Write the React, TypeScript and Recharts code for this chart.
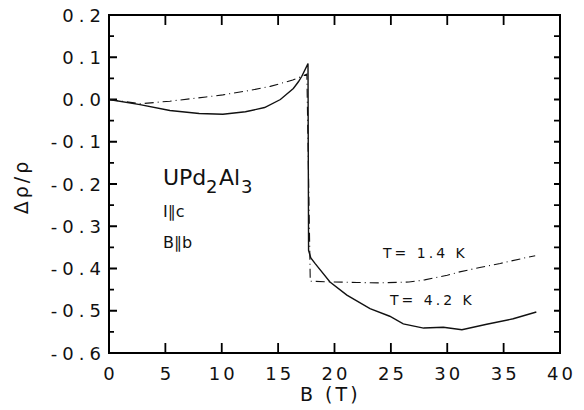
import React from 'react';
import { LineChart, Line, XAxis, YAxis } from 'recharts';

// Axis domains and tick values
const fieldDomain = [0, 40];
const rhoDomain = [-0.6, 0.2];
const fieldTicks = [0, 5, 10, 15, 20, 25, 30, 35, 40];
const rhoTicks = [
  -0.6, -0.55, -0.5, -0.45, -0.4, -0.35, -0.3, -0.25, -0.2, -0.15, -0.1, -0.05, 0, 0.05, 0.1, 0.15, 0.2,
];

// T = 1.4 K (dashed)
const fieldLow = [0, 2.8, 5.4, 8.6, 10.1, 12.6, 14.3, 16.3, 17.55, 17.85, 20, 22, 24, 26.6, 28, 30, 31.1, 33, 34.7, 37.2, 37.8];
const rhoLow = [0, -0.01, -0.004, 0.006, 0.011, 0.022, 0.031, 0.046, 0.06, -0.43, -0.432, -0.433, -0.434, -0.432, -0.427, -0.416, -0.408, -0.397, -0.388, -0.373, -0.37];

// T = 4.2 K (solid)
const fieldHigh = [0, 2.75, 5.4, 8, 10.1, 12.1, 13.8, 15.2, 16.35, 16.8, 17.1, 17.65, 17.7, 17.9, 18.27, 19.6, 21.1, 23.15, 24.9, 26.1, 27.9, 29.65, 31.3, 33.5, 35.85, 37.9];
const rhoHigh = [0, -0.012, -0.026, -0.033, -0.035, -0.029, -0.019, 0, 0.026, 0.042, 0.055, 0.085, -0.357, -0.375, -0.388, -0.432, -0.463, -0.495, -0.513, -0.531, -0.541, -0.539, -0.545, -0.532, -0.519, -0.503];

const lowData = fieldLow.map((b, i) => ({ b, r: rhoLow[i] }));
const highData = fieldHigh.map((b, i) => ({ b, r: rhoHigh[i] }));

const FONT = "'DejaVu Sans', 'Liberation Sans', sans-serif";
const INK = '#111111';
const FRAME = '#000000';

const CHART_W = 584;
const CHART_H = 410;
const MARGIN = { top: 15, right: 24, left: 0, bottom: 0 };
const Y_AXIS_W = 109;
const X_AXIS_H = 57;
const PLOT_W = CHART_W - Y_AXIS_W - MARGIN.right;
const PLOT_H = CHART_H - X_AXIS_H - MARGIN.top;

const [bMin, bMax] = fieldDomain;
const [rMin, rMax] = rhoDomain;
// tick lengths (pixels) converted to data units of each axis
const pxToB = (px: number) => (px * (bMax - bMin)) / PLOT_W;
const pxToR = (px: number) => (px * (rMax - rMin)) / PLOT_H;

const isMajor = (v: number) => Math.abs(Math.round(v * 10) - v * 10) < 1e-6;
const isEdgeRho = (v: number) => Math.abs(v - rMax) < 1e-6 || Math.abs(v - rMin) < 1e-6;
const isEdgeB = (v: number) => v <= bMin || v >= bMax;
const fmtRho = (v: number) => {
  if (Math.abs(v) < 1e-9) return '0.0';
  return (v < 0 ? '-' : '') + Math.abs(v).toFixed(1);
};
const spaced = (s: string, gap: number) =>
  Array.from(s)
    .map((_, i) => (i === 0 ? 0 : gap))
    .join(' ');

// frame of the plot, built from the axis domains
const frameData = [
  { b: bMin, r: rMin },
  { b: bMax, r: rMin },
  { b: bMax, r: rMax },
  { b: bMin, r: rMax },
  { b: bMin, r: rMin },
];

// inward tick marks on all four sides, built from the tick lists
const tickData: { b: number; r: number | null }[] = [];
fieldTicks.filter((t) => !isEdgeB(t)).forEach((t) => {
  tickData.push({ b: t, r: rMin }, { b: t, r: rMin + pxToR(10) }, { b: t, r: null });
  tickData.push({ b: t, r: rMax }, { b: t, r: rMax - pxToR(10) }, { b: t, r: null });
});
rhoTicks.filter((v) => !isEdgeRho(v)).forEach((v) => {
  tickData.push({ b: bMin, r: v }, { b: bMin + pxToB(isMajor(v) ? 8 : 5), r: v }, { b: bMin, r: null });
  tickData.push({ b: bMax, r: v }, { b: bMax - pxToB(6), r: v }, { b: bMax, r: null });
});

const BottomTick = (props: any) => {
  const x = Number(props.x);
  const y = Number(props.y);
  const v = Number(props.payload.value);
  const s = String(v);
  return (
    <text x={x} y={y + 27} dx={spaced(s, 3)} textAnchor="middle" fontFamily={FONT} fontSize={18} fill={INK}>
      {s}
    </text>
  );
};

const LeftTick = (props: any) => {
  const x = Number(props.x);
  const y = Number(props.y);
  const v = Number(props.payload.value);
  if (!isMajor(v)) return <g />;
  const s = fmtRho(v);
  return (
    <text x={x - 8} y={y + 6.5} dx={spaced(s, 5)} textAnchor="end" fontFamily={FONT} fontSize={18} fill={INK}>
      {s}
    </text>
  );
};

const axisFrame = { stroke: FRAME, strokeWidth: 2 };

export default function App() {
  return (
    <div style={{ position: 'absolute', left: 0, top: 0, width: CHART_W, height: CHART_H, background: '#fff' }}>
      <LineChart width={CHART_W} height={CHART_H} margin={MARGIN}>
        <XAxis
          xAxisId="b"
          dataKey="b"
          type="number"
          domain={fieldDomain}
          ticks={fieldTicks}
          interval={0}
          height={X_AXIS_H}
          tickSize={0}
          tickMargin={0}
          tickLine={false}
          axisLine={axisFrame}
          tick={<BottomTick />}
        />
        <YAxis
          yAxisId="r"
          type="number"
          domain={rhoDomain}
          ticks={rhoTicks}
          interval={0}
          width={Y_AXIS_W}
          tickSize={0}
          tickMargin={0}
          tickLine={false}
          axisLine={axisFrame}
          tick={<LeftTick />}
        />
        <Line
          xAxisId="b"
          yAxisId="r"
          data={frameData}
          dataKey="r"
          type="linear"
          dot={false}
          activeDot={false}
          stroke={FRAME}
          strokeWidth={2}
          strokeLinecap="square"
          isAnimationActive={false}
        />
        <Line
          xAxisId="b"
          yAxisId="r"
          data={tickData}
          dataKey="r"
          type="linear"
          dot={false}
          activeDot={false}
          connectNulls={false}
          stroke={FRAME}
          strokeWidth={1.8}
          isAnimationActive={false}
        />
        <Line
          xAxisId="b"
          yAxisId="r"
          data={lowData}
          dataKey="r"
          type="linear"
          dot={false}
          stroke={INK}
          strokeWidth={1.1}
          strokeDasharray="9 4 1 4"
          isAnimationActive={false}
        />
        <Line
          xAxisId="b"
          yAxisId="r"
          data={highData}
          dataKey="r"
          type="linear"
          dot={false}
          stroke={INK}
          strokeWidth={1.4}
          isAnimationActive={false}
        />
      </LineChart>
      <svg width={CHART_W} height={CHART_H} style={{ position: 'absolute', left: 0, top: 0, pointerEvents: 'none' }}>
        <text x={300} y={401} dx={spaced('B  (T)', 3)} fontFamily={FONT} fontSize={19} fill={INK}>
          B  (T)
        </text>
        <text
          transform="translate(28,188) rotate(-90)"
          dx={spaced('Δρ/ρ', 3)}
          textAnchor="middle"
          fontFamily={FONT}
          fontSize={19}
          fill={INK}
        >
          Δρ/ρ
        </text>
        <text x={163} y={185} fontFamily={FONT} fontSize={22} fill={INK}>UPd</text>
        <text x={206} y={193} fontFamily={FONT} fontSize={18} fill={INK}>2</text>
        <text x={219} y={185} fontFamily={FONT} fontSize={22} fill={INK}>Al</text>
        <text x={241} y={193} fontFamily={FONT} fontSize={18} fill={INK}>3</text>
        <text x={163} y={217} fontFamily={FONT} fontSize={16} fill={INK}>
          I∥c
        </text>
        <text x={163} y={248} fontFamily={FONT} fontSize={16} fill={INK}>
          B∥b
        </text>
        <text x={383} y={258} dx={spaced('T= 1.4 K', 3)} fontFamily={FONT} fontSize={14} fill={INK}>
          T= 1.4 K
        </text>
        <text x={390} y={305} dx={spaced('T= 4.2 K', 3)} fontFamily={FONT} fontSize={14} fill={INK}>
          T= 4.2 K
        </text>
    </svg>
    </div>
  );
}
